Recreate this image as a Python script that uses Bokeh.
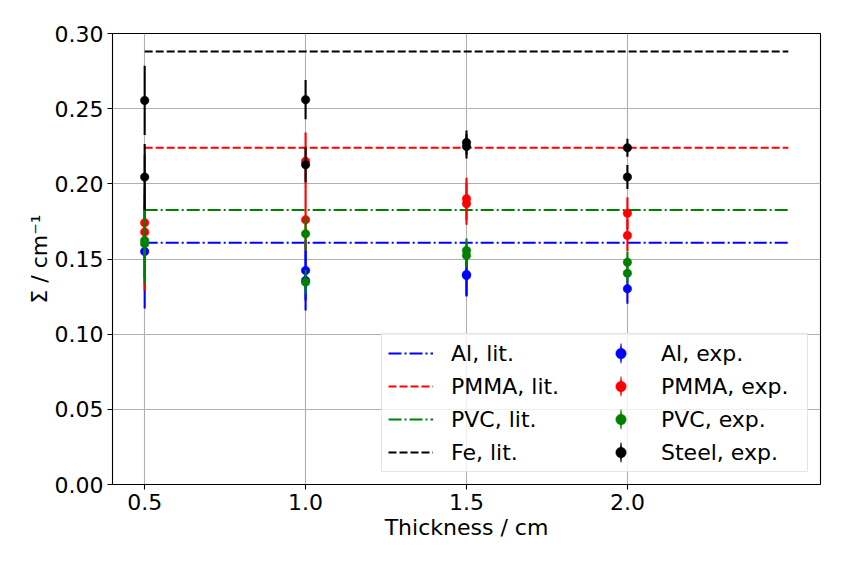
import numpy as np
from bokeh.plotting import figure
from bokeh.models import (ColumnDataSource, Legend, LegendItem, FixedTicker,
                          Range1d, PrintfTickFormatter)
from bokeh.embed import file_html
from bokeh.resources import INLINE

# ---------------- data ----------------
lit_x = [0.5, 2.5]
lit_al = 0.1608
lit_pmma = 0.2240
lit_pvc = 0.1826
lit_fe = 0.2880

al_x = [0.5, 1.0, 1.0, 1.5, 1.5, 2.0]
al_y = [0.1550, 0.1424, 0.1357, 0.1397, 0.1390, 0.1302]
al_err = [0.038, 0.020, 0.020, 0.014, 0.014, 0.010]

pmma_x = [0.5, 0.5, 1.0, 1.0, 1.5, 1.5, 2.0, 2.0]
pmma_y = [0.1741, 0.1679, 0.2151, 0.1761, 0.1901, 0.1868, 0.1805, 0.1657]
pmma_err = [0.045, 0.030, 0.019, 0.020, 0.014, 0.014, 0.0105, 0.0105]

pvc_x = [0.5, 0.5, 1.0, 1.0, 1.5, 1.5, 2.0, 2.0]
pvc_y = [0.1623, 0.1601, 0.1668, 0.1346, 0.1557, 0.1524, 0.1479, 0.1406]
pvc_err = [0.025, 0.0266, 0.011, 0.008, 0.008, 0.008, 0.007, 0.007]

steel_x = [0.5, 0.5, 1.0, 1.0, 1.5, 1.5, 2.0, 2.0]
steel_y = [0.2555, 0.2045, 0.2560, 0.2127, 0.2275, 0.2249, 0.2240, 0.2045]
steel_err = [0.023, 0.022, 0.013, 0.0116, 0.008, 0.008, 0.006, 0.008]

x_ticks = [0.5, 1.0, 1.5, 2.0]
y_ticks = [0.0, 0.05, 0.10, 0.15, 0.20, 0.25, 0.30]

# ---------------- figure ----------------
FONT = "DejaVu Sans"
FS = "22px"

p = figure(width=831, height=549, output_backend="svg", toolbar_location=None,
           x_range=Range1d(0.4, 2.6), y_range=Range1d(0.0, 0.30),
           min_border_left=112, min_border_right=11, min_border_top=33,
           min_border_bottom=65)
p.background_fill_color = "white"
p.border_fill_color = "white"
p.outline_line_color = "black"
p.outline_line_width = 1.1

for ax in (p.xaxis[0], p.yaxis[0]):
    ax.axis_line_color = None
    ax.major_tick_line_color = "black"
    ax.major_tick_line_width = 1.1
    ax.major_tick_out = 5
    ax.major_tick_in = 0
    ax.minor_tick_line_color = None
    ax.major_label_text_font = FONT
    ax.major_label_text_font_size = FS
    ax.major_label_text_color = "black"
    ax.axis_label_text_font = FONT
    ax.axis_label_text_font_size = FS
    ax.axis_label_text_font_style = "normal"
    ax.axis_label_text_color = "black"

p.xaxis.ticker = FixedTicker(ticks=x_ticks)
p.yaxis.ticker = FixedTicker(ticks=y_ticks)
p.xaxis.formatter = PrintfTickFormatter(format="%.1f")
p.yaxis.formatter = PrintfTickFormatter(format="%.2f")
p.xaxis.axis_label = "Thickness / cm"
p.yaxis.axis_label = "Σ / cm⁻¹"
p.xaxis.major_label_standoff = 4
p.yaxis.major_label_standoff = 4
p.xaxis.axis_label_standoff = 2
p.yaxis.axis_label_standoff = 0

p.xgrid.ticker = FixedTicker(ticks=x_ticks)
p.ygrid.ticker = FixedTicker(ticks=y_ticks)
p.grid.grid_line_color = "#b0b0b0"
p.grid.grid_line_width = 1.1

LW = 2.1
DASH = "8 3"
DASHDOT = "13 3 2 3"

r_al_lit = p.line(lit_x, [lit_al, lit_al], line_color="blue", line_width=LW, line_dash=DASHDOT)
r_pmma_lit = p.line(lit_x, [lit_pmma, lit_pmma], line_color="red", line_width=LW, line_dash=DASH)
r_pvc_lit = p.line(lit_x, [lit_pvc, lit_pvc], line_color="green", line_width=LW, line_dash=DASHDOT)
r_fe_lit = p.line(lit_x, [lit_fe, lit_fe], line_color="black", line_width=LW, line_dash=DASH)


def exp_series(xs, ys, errs, color):
    lo = [y - e for y, e in zip(ys, errs)]
    hi = [y + e for y, e in zip(ys, errs)]
    src = ColumnDataSource(dict(x=xs, y=ys, lo=lo, hi=hi))
    p.segment(x0="x", y0="lo", x1="x", y1="hi", source=src,
              line_color=color, line_width=LW)
    # tiny, very thin ellipse hidden under each dot; the legend scales it up
    # (keeping its aspect ratio) into a vertical error-bar stroke
    bar = p.ellipse(x="x", y="y", source=src, width=0.2, height=2.0,
                    width_units="screen", height_units="screen",
                    fill_color=color, line_color=None)
    pts = p.scatter(x="x", y="y", source=src, marker="circle", size=8.5,
                    fill_color=color, line_color=color, line_width=0.5)
    return bar, pts


al_bar, al_pts = exp_series(al_x, al_y, al_err, "blue")
pmma_bar, pmma_pts = exp_series(pmma_x, pmma_y, pmma_err, "red")
pvc_bar, pvc_pts = exp_series(pvc_x, pvc_y, pvc_err, "green")
st_bar, st_pts = exp_series(steel_x, steel_y, steel_err, "black")

items = [
    LegendItem(label="Al, lit.", renderers=[r_al_lit]),
    LegendItem(label="PMMA, lit.", renderers=[r_pmma_lit]),
    LegendItem(label="PVC, lit.", renderers=[r_pvc_lit]),
    LegendItem(label="Fe, lit.", renderers=[r_fe_lit]),
    LegendItem(label="Al, exp.", renderers=[al_bar, al_pts]),
    LegendItem(label="PMMA, exp.", renderers=[pmma_bar, pmma_pts]),
    LegendItem(label="PVC, exp.", renderers=[pvc_bar, pvc_pts]),
    LegendItem(label="Steel, exp.", renderers=[st_bar, st_pts]),
]
legend = Legend(items=items, ncols=2, location="bottom_right", margin=12,
                padding=6, spacing=7, glyph_width=45, glyph_height=26,
                label_height=26, label_standoff=18, label_width=140,
                label_text_font=FONT, label_text_font_size=FS,
                label_text_color="black",
                border_line_color="#cccccc", border_line_width=1.1,
                background_fill_color="white", background_fill_alpha=0.8)
p.add_layout(legend)

open("out.html", "w").write(file_html(p, INLINE))
